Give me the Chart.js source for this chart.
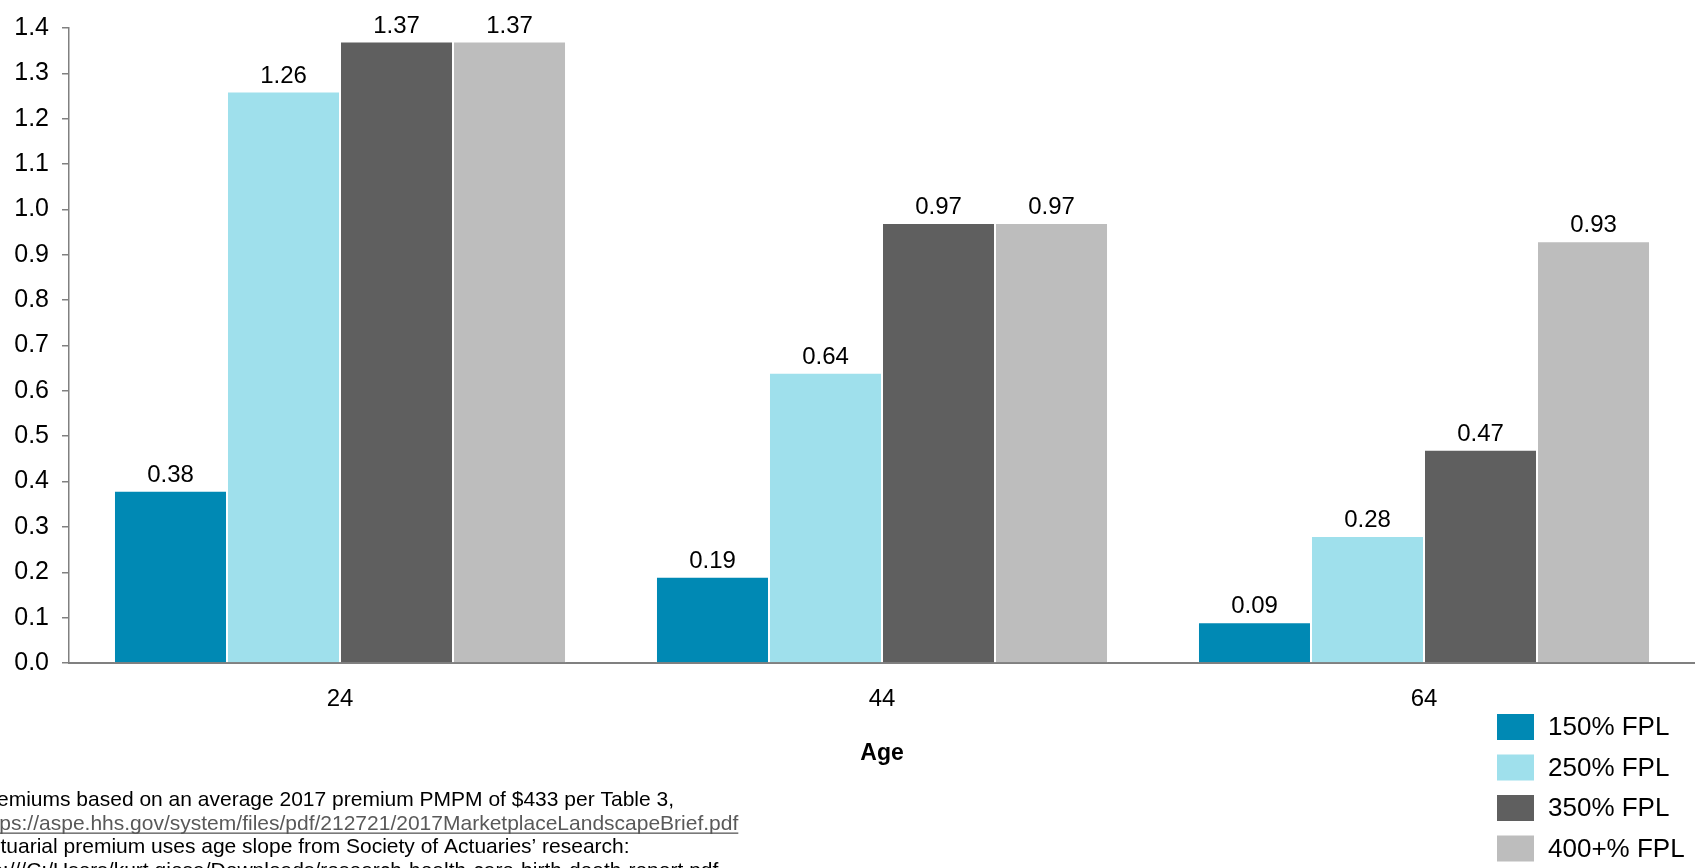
<!DOCTYPE html>
<html>
<head>
<meta charset="utf-8">
<script src="https://cdn.jsdelivr.net/npm/chart.js@4/dist/chart.umd.min.js"></script>
<style>
  html, body { margin: 0; padding: 0; background: #ffffff; overflow: hidden; }
  canvas { display: block; }
</style>
</head>
<body>
<canvas id="chart" width="1695" height="868"></canvas>
<script>
// Age groups on the x axis
const ages = ['24', '44', '64'];

// Premium ratio by income level (% of federal poverty level)
const fpl150 = [0.38, 0.19, 0.09];
const fpl250 = [1.26, 0.64, 0.28];
const fpl350 = [1.37, 0.97, 0.47];
const fpl400 = [1.37, 0.97, 0.93];

const seriesNames = ['150% FPL', '250% FPL', '350% FPL', '400+% FPL'];
const seriesColors = ['#0089b4', '#9fe0ec', '#5f5f5f', '#bdbdbd'];

// y axis ticks 0.0 .. 1.4
const yTickLabels = ['0.0', '0.1', '0.2', '0.3', '0.4', '0.5', '0.6', '0.7', '0.8', '0.9', '1.0', '1.1', '1.2', '1.3', '1.4'];

// source notes
const notes = [
  { text: 'Premiums based on an average 2017 premium PMPM of $433 per Table 3,', link: false },
  { text: 'https://aspe.hhs.gov/system/files/pdf/212721/2017MarketplaceLandscapeBrief.pdf', link: true },
  { text: 'Actuarial premium uses age slope from Society of Actuaries\u2019 research:', link: false },
  { text: 'file:///C:/Users/kurt.giesa/Downloads/research-health-care-birth-death-report.pdf', link: false }
];

const FONT = '"Liberation Sans", Arial, sans-serif';

// value labels above each bar
const valueLabels = {
  id: 'valueLabels',
  afterDatasetsDraw(chart) {
    const ctx = chart.ctx;
    ctx.save();
    ctx.font = '24px ' + FONT;
    ctx.fillStyle = '#000000';
    ctx.textAlign = 'center';
    ctx.textBaseline = 'alphabetic';
    chart.data.datasets.forEach((ds, i) => {
      const meta = chart.getDatasetMeta(i);
      meta.data.forEach((bar, j) => {
        ctx.fillText(ds.data[j].toFixed(2), bar.x, bar.y - 9);
      });
    });
    ctx.restore();
  }
};

// stacked legend in the lower right corner
const cornerLegend = {
  id: 'cornerLegend',
  afterDraw(chart) {
    const ctx = chart.ctx;
    ctx.save();
    ctx.font = '26px ' + FONT;
    ctx.textAlign = 'left';
    ctx.textBaseline = 'middle';
    chart.data.datasets.forEach((ds, i) => {
      const top = 714 + i * 40.5;
      ctx.fillStyle = ds.backgroundColor;
      ctx.fillRect(1497, top, 37, 26);
      ctx.fillStyle = '#000000';
      ctx.fillText(ds.label, 1548, top + 14);
    });
    ctx.restore();
  }
};

// source notes along the bottom left, running off the left edge
const sourceNotes = {
  id: 'sourceNotes',
  afterDraw(chart) {
    const ctx = chart.ctx;
    ctx.save();
    ctx.font = '21px ' + FONT;
    ctx.textAlign = 'left';
    ctx.textBaseline = 'alphabetic';
    const x0 = -24;
    notes.forEach((n, i) => {
      const y = 806 + i * 23.5;
      ctx.fillStyle = n.link ? '#595959' : '#000000';
      ctx.fillText(n.text, x0, y);
      if (n.link) {
        const w = ctx.measureText(n.text).width;
        ctx.fillRect(x0, y + 3, w, 1.3);
      }
    });
    ctx.restore();
  }
};

const datasets = [fpl150, fpl250, fpl350, fpl400].map((values, i) => ({
  label: seriesNames[i],
  data: values,
  backgroundColor: seriesColors[i],
  borderColor: '#ffffff',
  borderWidth: 1,
  borderSkipped: 'start'
}));

new Chart(document.getElementById('chart'), {
  type: 'bar',
  data: { labels: ages, datasets },
  options: {
    responsive: false,
    animation: false,
    devicePixelRatio: 1,
    layout: { padding: { top: 27, right: 0, bottom: 0, left: 0 } },
    datasets: {
      bar: { categoryPercentage: 0.834, barPercentage: 1 }
    },
    plugins: {
      legend: { display: false },
      tooltip: { enabled: false },
      title: { display: false }
    },
    scales: {
      x: {
        grid: { display: false, drawTicks: false },
        border: { display: true, color: '#808080', width: 2 },
        ticks: {
          color: '#000000',
          font: { family: FONT, size: 24 },
          padding: 22,
          maxRotation: 0
        },
        title: {
          display: true,
          text: 'Age',
          color: '#000000',
          font: { family: FONT, size: 23, weight: 'bold' },
          padding: { top: 0, bottom: 101 }
        },
        afterFit(scale) { scale.height = 205; }
      },
      y: {
        min: 0,
        max: 1.4,
        grid: {
          drawOnChartArea: false,
          drawTicks: true,
          tickLength: 7,
          color: '#808080',
          lineWidth: 1.5
        },
        border: { display: true, color: '#808080', width: 1.5 },
        ticks: {
          stepSize: 0.1,
          color: '#000000',
          font: { family: FONT, size: 25 },
          padding: 13,
          callback: (value, index) => yTickLabels[index]
        },
        afterFit(scale) { scale.width = 69; }
      }
    }
  },
  plugins: [valueLabels, cornerLegend, sourceNotes]
});
</script>
</body>
</html>
